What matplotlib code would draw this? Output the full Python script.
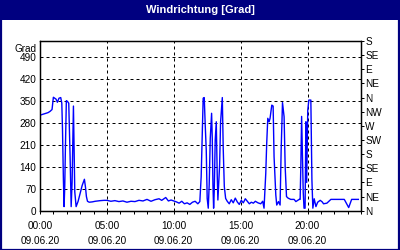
import matplotlib
matplotlib.use("Agg")
import matplotlib.pyplot as plt
from matplotlib.patches import Rectangle

# ---- data (hours since 00:00 on 09.06.20, wind direction in degrees) ----
hours = [
    0.0, 0.3, 0.6, 0.75, 0.9, 1.0, 1.1, 1.2, 1.3, 1.42, 1.55, 1.63, 1.68, 1.75, 1.8,
    1.85, 1.9, 1.97, 2.05, 2.15, 2.2, 2.25, 2.33, 2.4, 2.5, 2.55, 2.6, 2.7, 2.85, 3.0,
    3.15, 3.32, 3.4, 3.47, 3.55, 3.68, 3.9, 4.13, 4.5, 4.8,
    5.0, 5.3, 5.6, 5.9, 6.2, 6.5, 6.8, 7.1, 7.4, 7.7, 8.0, 8.3, 8.6, 8.9, 9.1, 9.4,
    9.6, 9.8, 10.0, 10.2, 10.4, 10.6, 10.8, 11.0, 11.2, 11.4, 11.6, 11.8, 11.95,
    12.05, 12.15, 12.2, 12.28, 12.35, 12.43, 12.5, 12.58, 12.65, 12.73, 12.83, 12.88,
    12.93, 12.98, 13.03, 13.1, 13.18, 13.25, 13.3, 13.43, 13.5, 13.63, 13.7, 13.78, 13.88,
    14.0, 14.15, 14.3, 14.45, 14.6, 14.75, 14.9, 15.05, 15.2, 15.35, 15.5, 15.65, 15.8,
    15.95, 16.1, 16.3, 16.5, 16.65, 16.75,
    16.88, 16.95, 17.03, 17.13, 17.2, 17.33, 17.43, 17.5, 17.63, 17.7, 17.83, 17.95,
    18.03, 18.13, 18.25, 18.33, 18.43, 18.55, 18.75, 19.0, 19.13, 19.38,
    19.45, 19.5, 19.56, 19.62, 19.68, 19.74, 19.82, 19.88, 19.94, 20.02, 20.1, 20.25,
    20.33, 20.4, 20.5, 20.63, 20.76, 20.95, 21.1, 21.2, 21.45, 21.75, 22.75, 23.08,
    23.3, 23.8,
]
degrees = [
    304, 308, 312, 316, 322, 361, 358, 355, 345, 358, 360, 342, 262, 98, 13,
    76, 200, 350, 348, 342, 260, 172, 13, 90, 333, 200, 60, 13, 30, 55,
    80, 100, 75, 45, 30, 27, 28, 30, 32, 33,
    33, 30, 32, 29, 31, 27, 30, 29, 33, 31, 36, 30, 35, 38, 33, 42,
    31, 34, 31, 28, 24, 30, 22, 25, 20, 27, 30, 22, 29,
    108, 273, 358, 360, 276, 193, 39, 8, 82, 230, 310, 230,
    82, 8, 66, 225, 283, 114, 34, 146, 281, 360, 196, 77, 39,
    30, 22, 35, 25, 40, 28, 20, 33, 25, 38, 30, 22, 27,
    24, 30, 25, 22, 30, 8,
    119, 214, 294, 283, 294, 336, 333, 172, 50, 18, 29, 18,
    193, 344, 299, 140, 45, 40, 36, 36, 29, 36,
    36, 140, 300, 180, 60, 8, 8, 283, 90, 320, 352, 352,
    98, 8, 38, 13, 27, 33, 28, 22, 24, 36, 36, 10,
    36, 36,
]

left_ticks = [0, 70, 140, 210, 280, 350, 420, 490]
right_ticks = [0, 45, 90, 135, 180, 225, 270, 315, 360, 405, 450, 495, 540]
right_labels = ["N", "NE", "E", "SE", "S", "SW", "W", "NW", "N", "NE", "E", "SE", "S"]
x_ticks = [0, 5, 10, 15, 20]
x_labels = ["00:00\n09.06.20", "05:00\n09.06.20", "10:00\n09.06.20",
            "15:00\n09.06.20", "20:00\n09.06.20"]
title = "Windrichtung [Grad]"
unit = "Grad"

NAVY = "#000080"
FONT = "Liberation Sans"

fig = plt.figure(figsize=(4, 2.5), dpi=100)
fig.patch.set_facecolor("white")

# title bar
fig.patches.append(Rectangle((0, 1 - 20 / 250), 1, 20 / 250, transform=fig.transFigure,
                             facecolor=NAVY, edgecolor="none", zorder=0))
fig.text(0.5, 1 - 10 / 250, title, color="white", ha="center", va="center",
         fontsize=8, fontweight="bold", family=FONT)
# outer border
fig.patches.append(Rectangle((0.5 / 400, 0.5 / 250), 398.5 / 400, 248.5 / 250,
                             transform=fig.transFigure, facecolor="none",
                             edgecolor=NAVY, linewidth=1.6, zorder=5))

ax = fig.add_axes([40 / 400, (250 - 210.7) / 250, 321 / 400, (210.7 - 41) / 250])
ax.set_facecolor("white")
ax.plot(hours, degrees, color="#0000FF", linewidth=1.0, zorder=3)

ax.set_xlim(0, 24)
ax.set_ylim(0, 540)
ax.set_yticks(left_ticks)
ax.set_yticklabels([str(v) for v in left_ticks], family=FONT, fontsize=7.2)
ax.set_xticks(x_ticks)
ax.set_xticks(range(0, 25), minor=True)
ax.set_xticklabels(x_labels, family=FONT, fontsize=7.2, linespacing=1.7)

ax.tick_params(axis="y", length=0, pad=2.5)
ax.tick_params(axis="x", which="both", direction="out", length=2.2, width=0.72, pad=5)
ax.grid(True, which="major", color="black", linestyle=(0, (3, 3)), linewidth=0.72)
for s in ax.spines.values():
    s.set_color("black")
    s.set_linewidth(0.9)

ax.text(-0.012, 0.985, unit, transform=ax.transAxes, ha="right", va="top",
        family=FONT, fontsize=7.2)

ax2 = ax.twinx()
ax2.set_ylim(0, 540)
ax2.set_yticks(right_ticks)
ax2.set_yticklabels(right_labels, family=FONT, fontsize=7.2)
ax2.tick_params(axis="y", direction="out", length=2.2, width=0.72, pad=1)
for s in ax2.spines.values():
    s.set_color("black")
    s.set_linewidth(0.9)

fig.savefig("out.png", dpi=100)
